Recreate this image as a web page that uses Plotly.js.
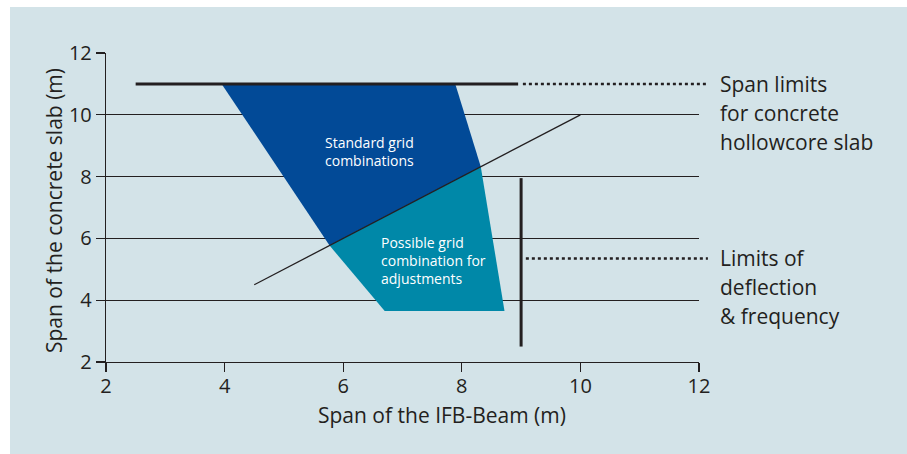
<!DOCTYPE html>
<html>
<head>
<meta charset="utf-8">
<script src="https://cdn.plot.ly/plotly-3.0.1.min.js"></script>
<style>
  html, body { margin: 0; padding: 0; background: #ffffff; width: 907px; height: 454px; overflow: hidden; }
  #chart { position: absolute; left: 10px; top: 7px; width: 897px; height: 447px; }
</style>
</head>
<body>
<div id="chart"></div>
<script>
// ---- data ----
const xTickVals = [2, 4, 6, 8, 10, 12];
const yTickVals = [2, 4, 6, 8, 10, 12];
const xRange = [2, 12];
const yRange = [2, 12];

// Standard grid combinations (dark blue region)
const standardX = [3.95, 7.89, 8.32, 5.77];
const standardY = [11, 11, 8.32, 5.77];

// Possible grid combination for adjustments (teal region)
const adjustX = [5.77, 8.32, 8.72, 6.70];
const adjustY = [5.77, 8.32, 3.65, 3.65];

// Diagonal separating line
const diagX = [4.5, 10];
const diagY = [4.5, 10];

// Span limit of the concrete hollowcore slab (thick horizontal)
const slabLimitX = [2.5, 8.95];
const slabLimitY = [11, 11];

// Limits of deflection & frequency (thick vertical)
const deflX = [9, 9];
const deflY = [2.5, 7.95];

// Leader lines (dotted) toward the right-hand notes
const slabLeaderX = [9.03, 12.15];
const slabLeaderY = 11;
const deflLeaderX = [9.08, 12.15];
const deflLeaderY = 5.35;

const slabNote = ['Span limits', 'for concrete', 'hollowcore slab'];
const deflNote = ['Limits of', 'deflection', '& frequency'];

// ---- styles ----
const FONT = 'Open Sans, Noto Sans, sans-serif';
const INK = '#231f20';
const DARK_BLUE = '#024a97';
const TEAL = '#0088a8';
const PANEL = '#d3e3e8';

const toDomain = v => (v - xRange[0]) / (xRange[1] - xRange[0]);

const traces = [
  { x: standardX, y: standardY, type: 'scatter', mode: 'lines', fill: 'toself',
    fillcolor: DARK_BLUE, line: { width: 0, color: DARK_BLUE }, hoverinfo: 'skip', showlegend: false },
  { x: adjustX, y: adjustY, type: 'scatter', mode: 'lines', fill: 'toself',
    fillcolor: TEAL, line: { width: 0, color: TEAL }, hoverinfo: 'skip', showlegend: false },
  { x: diagX, y: diagY, type: 'scatter', mode: 'lines',
    line: { width: 1.3, color: INK }, hoverinfo: 'skip', showlegend: false },
  { x: slabLimitX, y: slabLimitY, type: 'scatter', mode: 'lines',
    line: { width: 3, color: INK }, hoverinfo: 'skip', showlegend: false },
  { x: deflX, y: deflY, type: 'scatter', mode: 'lines',
    line: { width: 3, color: INK }, hoverinfo: 'skip', showlegend: false }
];

const shapes = [
  { type: 'line', xref: 'x domain', yref: 'y', x0: toDomain(slabLeaderX[0]), x1: toDomain(slabLeaderX[1]),
    y0: slabLeaderY, y1: slabLeaderY, line: { color: INK, width: 2.5, dash: 'dot' } },
  { type: 'line', xref: 'x domain', yref: 'y', x0: toDomain(deflLeaderX[0]), x1: toDomain(deflLeaderX[1]),
    y0: deflLeaderY, y1: deflLeaderY, line: { color: INK, width: 2.5, dash: 'dot' } }
];

// page-pixel helpers (plot area in page coords: x 106..699, y 53..362)
const pxX = px => (px - 106) / 593;
const pxY = py => (362 - py) / 309;

const annotations = [];
function addNote(lines, yCenterPx) {
  lines.forEach((t, i) => {
    const py = yCenterPx + (i - (lines.length - 1) / 2) * 29;
    annotations.push({
      xref: 'paper', yref: 'paper', x: pxX(718), y: pxY(py),
      xanchor: 'left', yanchor: 'middle', showarrow: false, text: t,
      font: { family: FONT, size: 21, color: INK }, align: 'left'
    });
  });
}
addNote(slabNote, 113);
addNote(deflNote, 287);

// region labels
annotations.push({
  xref: 'x', yref: 'y', x: 6.45, y: 8.8, showarrow: false,
  text: 'Standard grid<br>combinations', align: 'left',
  font: { family: FONT, size: 14, color: '#ffffff' }
});
annotations.push({
  xref: 'x', yref: 'y', x: 6.60, y: 5.27, xanchor: 'left', showarrow: false,
  text: 'Possible grid<br>combination for<br>adjustments', align: 'left',
  font: { family: FONT, size: 14, color: '#ffffff' }
});
// axis titles
annotations.push({
  xref: 'paper', yref: 'paper', x: pxX(442), y: pxY(415),
  xanchor: 'center', yanchor: 'middle', showarrow: false,
  text: 'Span of the IFB-Beam (m)', font: { family: FONT, size: 21, color: INK }
});
annotations.push({
  xref: 'paper', yref: 'paper', x: pxX(54), y: pxY(211), textangle: -90,
  xanchor: 'center', yanchor: 'middle', showarrow: false,
  text: 'Span of the concrete slab (m)', font: { family: FONT, size: 21, color: INK }
});

const layout = {
  width: 897, height: 447,
  margin: { l: 96, r: 208, t: 46, b: 92 },
  paper_bgcolor: PANEL, plot_bgcolor: PANEL,
  font: { family: FONT, size: 20, color: INK },
  showlegend: false,
  xaxis: {
    range: xRange, tickvals: xTickVals, ticktext: xTickVals.map(String),
    showgrid: false, zeroline: false, showline: true, linecolor: INK, linewidth: 1.2,
    ticks: 'outside', ticklen: 9, tickwidth: 1.2, tickcolor: INK, ticklabelstandoff: -3,
    tickfont: { family: FONT, size: 20, color: INK }, fixedrange: true
  },
  yaxis: {
    range: yRange, tickvals: yTickVals, ticktext: yTickVals.map(String),
    showgrid: true, gridcolor: INK, gridwidth: 1, zeroline: false,
    showline: true, linecolor: INK, linewidth: 1.2,
    ticks: 'outside', ticklen: 9, tickwidth: 1.2, tickcolor: INK,
    tickfont: { family: FONT, size: 20, color: INK }, fixedrange: true
  },
  shapes: shapes,
  annotations: annotations
};

Plotly.newPlot('chart', traces, layout, { displayModeBar: false, staticPlot: true });
</script>
</body>
</html>
